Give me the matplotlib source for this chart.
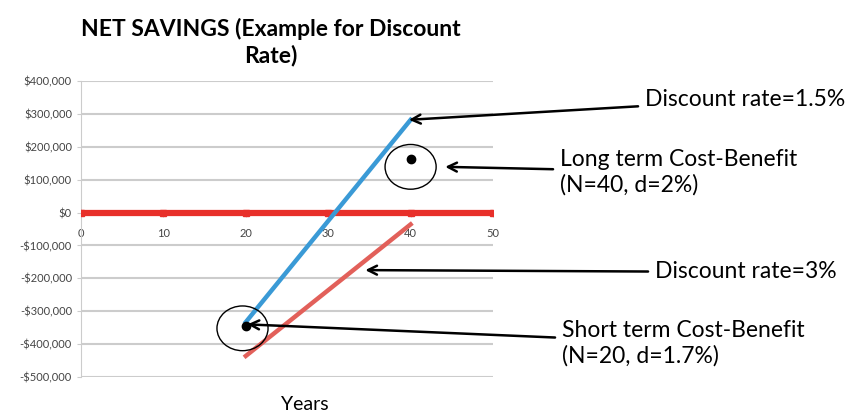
import numpy as np
import matplotlib.pyplot as plt
from matplotlib.patches import Ellipse
from matplotlib.ticker import FuncFormatter

plt.rcParams['font.family'] = ['Lato', 'DejaVu Sans']

# Data
years_base = [0, 10, 20, 30, 40, 50]
savings_base = [0, 0, 0, 0, 0, 0]

years_low_rate = [20, 40]
savings_low_rate = [-333000, 282000]      # discount rate 1.5%

years_high_rate = [20, 40]
savings_high_rate = [-436000, -36000]     # discount rate 3%

long_term_point = (40, 163000)
short_term_point = (20, -345000)

y_ticks = [400000, 300000, 200000, 100000, 0, -100000, -200000, -300000, -400000, -500000]
x_ticks = [0, 10, 20, 30, 40, 50]


def money(v, pos):
    if v < 0:
        return '-${:,.0f}'.format(-v)
    return '${:,.0f}'.format(v)


fig = plt.figure(figsize=(8.51, 4.13), dpi=100)
ax = fig.add_axes([81 / 851, 1 - 377 / 413, 412 / 851, 296 / 413])

ax.plot(years_base, savings_base, color='#e8302a', lw=4.5, marker='s', ms=4, zorder=3)
ax.plot(years_low_rate, savings_low_rate, color='#3a9ad6', lw=3.2, zorder=3)
ax.plot(years_high_rate, savings_high_rate, color='#e2605a', lw=3.2, zorder=3)

# highlighted cost-benefit points
ax.plot(*long_term_point, 'o', color='black', ms=6, zorder=4)
ax.plot(*short_term_point, 'o', color='black', ms=6, zorder=4)
ax.add_patch(Ellipse((40, 139000), 6.2, 136000, fill=False, ec='black', lw=1, zorder=4))
ax.add_patch(Ellipse((19.6, -352000), 6.2, 136000, fill=False, ec='black', lw=1, zorder=4))

ax.set_xlim(0, 50)
ax.set_ylim(-500000, 400000)
ax.set_yticks(y_ticks)
ax.set_xticks(x_ticks)
ax.yaxis.set_major_formatter(FuncFormatter(money))
ax.grid(axis='y', color='#cccccc', lw=1.5)
ax.set_axisbelow(True)

ax.spines['top'].set_visible(False)
ax.spines['right'].set_visible(False)
ax.spines['bottom'].set_position(('data', 0))
ax.spines['bottom'].set_color('#cccccc')
ax.spines['left'].set_color('#cccccc')
ax.tick_params(axis='both', labelsize=8, length=3)
ax.tick_params(axis='x', colors='#cccccc', labelcolor='#444444', pad=8)
ax.tick_params(axis='y', colors='#cccccc', labelcolor='#444444')

fig.text(271 / 851, 1 - 42 / 413, 'NET SAVINGS (Example for Discount\nRate)',
         ha='center', va='center', fontsize=16.5, fontweight='bold', linespacing=1.3)
fig.text(305 / 851, 1 - 404 / 413, 'Years', ha='center', va='center', fontsize=14)

arrow = dict(arrowstyle='->', color='black', lw=1.8, shrinkA=3, shrinkB=0,
             mutation_scale=16)
txt = dict(fontsize=16.5, va='center', ha='left', textcoords='figure fraction',
           linespacing=1.25)
ax.annotate('Discount rate=1.5%', xy=(39.8, 282000),
            xytext=(645 / 851, 1 - 100 / 413), arrowprops=arrow, **txt)
ax.annotate('Long term Cost-Benefit\n(N=40, d=2%)', xy=(44.2, 139000),
            xytext=(560 / 851, 1 - 172 / 413), arrowprops=arrow, **txt)
ax.annotate('Discount rate=3%', xy=(34.5, -175000),
            xytext=(655 / 851, 1 - 272 / 413), arrowprops=arrow, **txt)
ax.annotate('Short term Cost-Benefit\n(N=20, d=1.7%)', xy=(20.2, -340000),
            xytext=(562 / 851, 1 - 343 / 413), arrowprops=arrow, **txt)

plt.savefig('out.png', dpi=100)
